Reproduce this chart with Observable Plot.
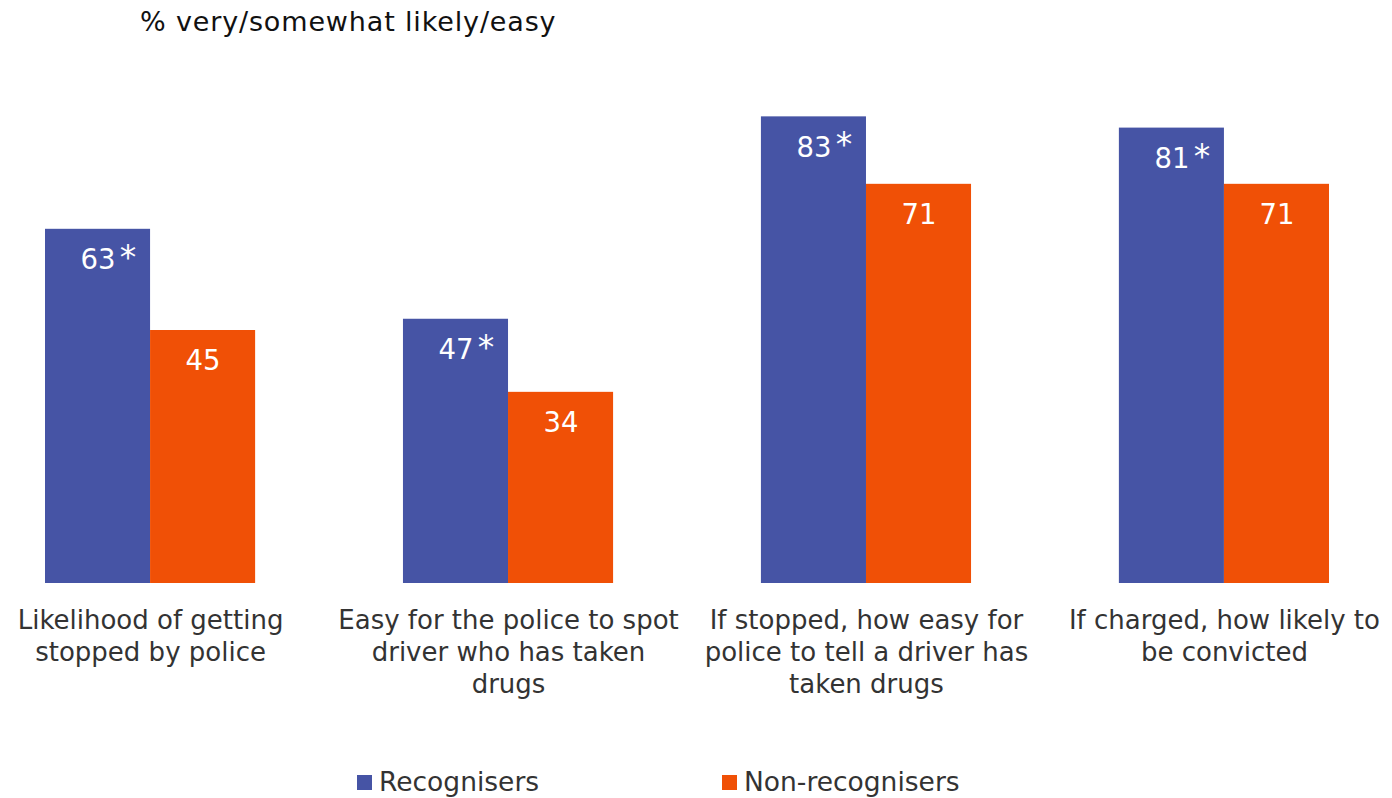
<!DOCTYPE html>
<html>
<head>
<meta charset="utf-8">
<script src="https://cdn.jsdelivr.net/npm/d3@7"></script>
<script src="https://cdn.jsdelivr.net/npm/@observablehq/plot@0.6"></script>
<style>
  html, body { margin: 0; padding: 0; background: #fff; }
  body { width: 1392px; height: 798px; position: relative; overflow: hidden; font-family: "DejaVu Sans", Verdana, sans-serif; }
  #title { height: 44px; line-height: 44px; padding-left: 140px; font-size: 27px; letter-spacing: 0.85px; color: #111; }
  #chart svg { display: block; }
  .leg { position: absolute; top: 767px; font-size: 26.5px; color: #333; line-height: 30px; }
  .sw { position: absolute; top: 8px; width: 15px; height: 15px; }
</style>
</head>
<body>
<div id="title">% very/somewhat likely/easy</div>
<div id="chart"></div>
<div id="legend"></div>
<script>
const groups = [
  "Likelihood of getting\nstopped by police",
  "Easy for the police to spot\ndriver who has taken\ndrugs",
  "If stopped, how easy for\npolice to tell a driver has\ntaken drugs",
  "If charged, how likely to\nbe convicted"
];
const series = ["Recognisers", "Non-recognisers"];
const recognisers = [63, 47, 83, 81];
const nonRecognisers = [45, 34, 71, 71];
const recognisersSignificant = [true, true, true, true];
const colors = ["#4654A5", "#F05006"];

const rows = [];
groups.forEach((g, i) => {
  rows.push({group: g, series: series[0], value: recognisers[i], star: recognisersSignificant[i]});
  rows.push({group: g, series: series[1], value: nonRecognisers[i], star: false});
});

const chart = Plot.plot({
  width: 1392,
  height: 716,
  marginLeft: 45,
  marginRight: 63,
  marginTop: 33,
  marginBottom: 177,
  style: {fontFamily: "'DejaVu Sans', Verdana, sans-serif", background: "transparent"},
  fx: {domain: groups, paddingInner: 0.413, paddingOuter: 0, round: false, axis: null},
  x: {domain: series, padding: 0, round: false, axis: null},
  y: {domain: [0, 90], axis: null},
  color: {domain: series, range: colors},
  marks: [
    Plot.barY(rows, {fx: "group", x: "series", y: "value", fill: "series"}),
    Plot.text(rows, {fx: "group", x: "series", y: "value", text: d => String(d.value),
      fill: "white", fontSize: 27.5, lineAnchor: "middle", dy: 31}),
    Plot.text(rows.filter(d => d.star), {fx: "group", x: "series", y: "value", text: () => "*",
      fill: "white", fontSize: 33, lineAnchor: "middle", dy: 29, dx: 30}),
    Plot.text(groups, {fx: d => d, text: d => d, frameAnchor: "bottom", lineAnchor: "top",
      dy: 23, fontSize: 26, lineHeight: 32 / 26, fill: "#333"})
  ]
});
document.getElementById("chart").appendChild(chart);

const legend = document.getElementById("legend");
const legendX = [357, 722];
series.forEach((s, i) => {
  const item = document.createElement("div");
  item.className = "leg";
  item.style.left = legendX[i] + "px";
  item.innerHTML = `<span class="sw" style="left:0;background:${colors[i]}"></span><span style="margin-left:22px">${s}</span>`;
  legend.appendChild(item);
});
</script>
</body>
</html>
